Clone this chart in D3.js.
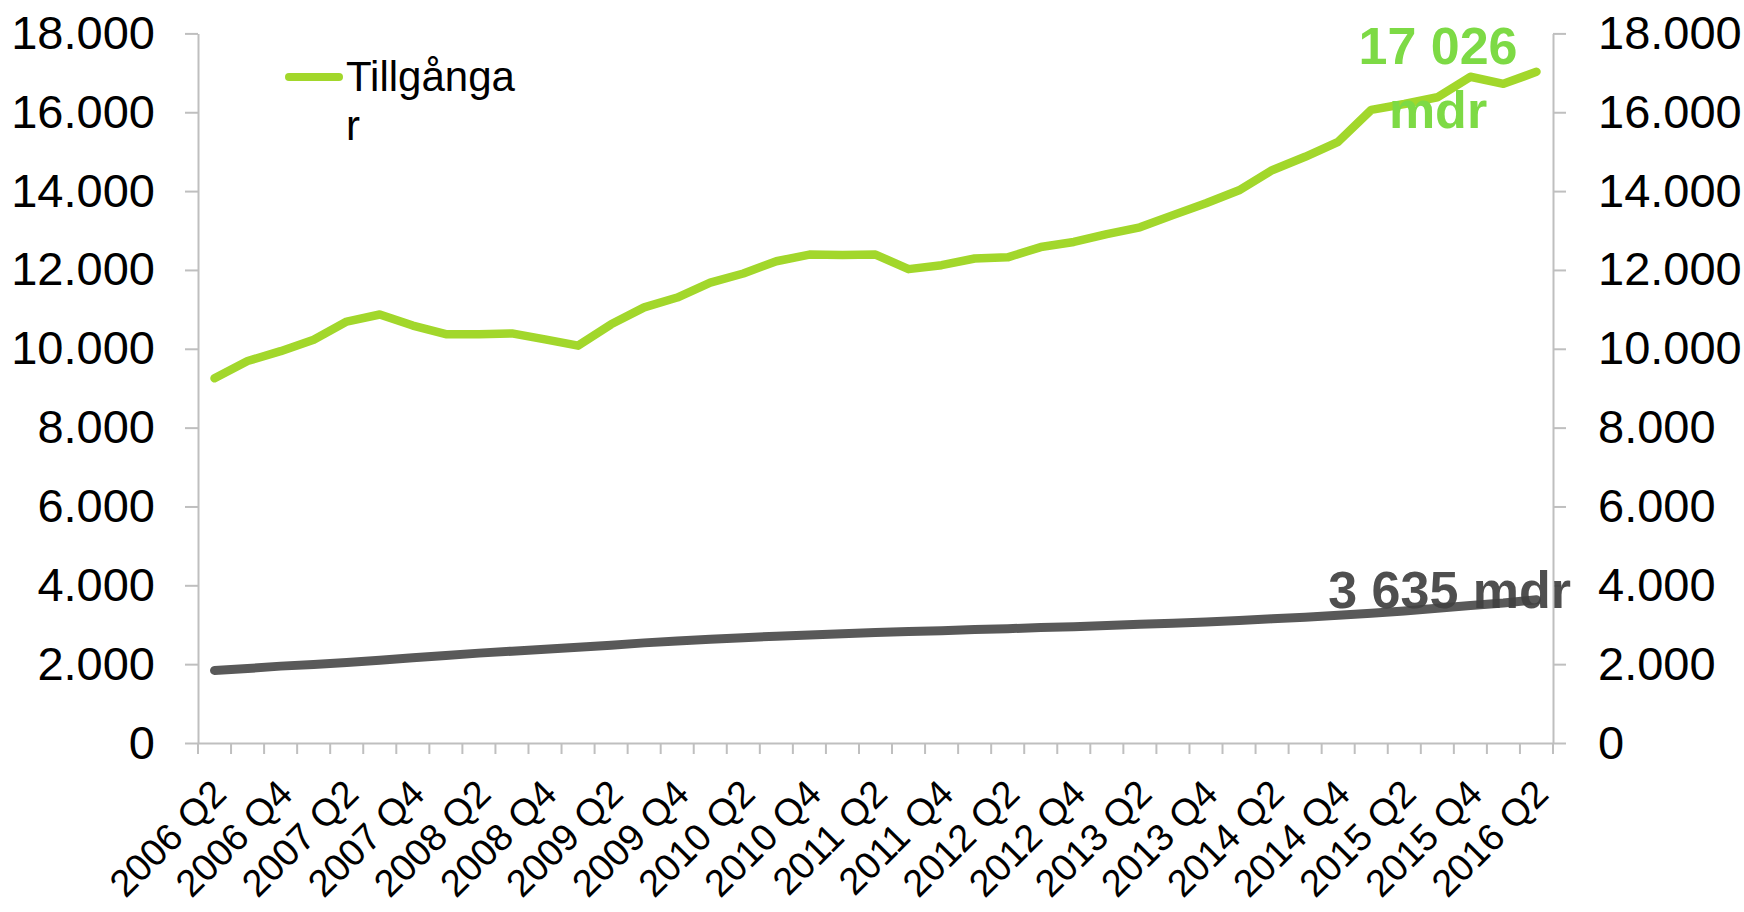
<!DOCTYPE html>
<html><head><meta charset="utf-8">
<script src="https://cdn.jsdelivr.net/npm/d3@7"></script>
<style>
body{margin:0;background:#fff}
text{font-family:"Liberation Sans",Arial,sans-serif}
</style>
</head><body>
<svg id="c" width="1744" height="912"></svg>
<script>
const categories = ["2006 Q2","2006 Q3","2006 Q4","2007 Q1","2007 Q2","2007 Q3","2007 Q4","2008 Q1","2008 Q2","2008 Q3","2008 Q4",
  "2009 Q1","2009 Q2","2009 Q3","2009 Q4","2010 Q1","2010 Q2","2010 Q3","2010 Q4","2011 Q1","2011 Q2","2011 Q3","2011 Q4",
  "2012 Q1","2012 Q2","2012 Q3","2012 Q4","2013 Q1","2013 Q2","2013 Q3","2013 Q4","2014 Q1","2014 Q2","2014 Q3","2014 Q4",
  "2015 Q1","2015 Q2","2015 Q3","2015 Q4","2016 Q1","2016 Q2"];
const assets = [9250,9690,9940,10230,10690,10870,10590,10370,10370,10390,10240,
  10080,10620,11050,11300,11680,11910,12220,12390,12380,12390,12020,12120,
  12290,12320,12580,12710,12910,13080,13390,13690,14020,14530,14870,15250,
  16060,16210,16380,16900,16720,17026];
const series2 = [1840,1890,1950,1990,2040,2100,2160,2220,2280,2330,2380,
  2430,2480,2540,2590,2630,2670,2710,2740,2770,2800,2830,2850,
  2880,2900,2930,2950,2980,3010,3040,3070,3110,3150,3190,3240,
  3290,3350,3420,3490,3550,3635];
const yTicks = [0,2000,4000,6000,8000,10000,12000,14000,16000,18000];
const xTickLabels = categories.filter((c,i)=>i%2===0);
const legendLines = ["Tillgånga","r"];
const assetsLabel = ["17 026","mdr"];
const series2Label = "3 635 mdr";

const svg = d3.select("#c");
const x = d3.scaleBand().domain(categories).range([198,1553]);
const y = d3.scaleLinear().domain([0,18000]).range([743,33.4]);
const fmt = d3.formatLocale({decimal:",",thousands:".",grouping:[3],currency:["",""]}).format(",");
const axisCol = "#BFBFBF";

// left axis
const gl = svg.append("g").attr("transform","translate(198,0)")
  .call(d3.axisLeft(y).tickValues(yTicks).tickSize(13).tickSizeOuter(0).tickPadding(30).tickFormat(fmt));
// right axis
const gr = svg.append("g").attr("transform","translate(1553,0)")
  .call(d3.axisRight(y).tickValues(yTicks).tickSize(13).tickSizeOuter(0).tickPadding(32).tickFormat(fmt));
[gl,gr].forEach(g=>{
  g.select(".domain").attr("stroke",axisCol).attr("stroke-width",2);
  g.selectAll(".tick line").attr("stroke",axisCol).attr("stroke-width",2);
  g.selectAll(".tick text").attr("font-size",47).attr("fill","#000")
   .attr("font-family","'Liberation Sans',Arial,sans-serif");
});

// bottom axis
const gb = svg.append("g").attr("transform",`translate(0,${y(0)})`)
  .call(d3.axisBottom(x).tickValues([]).tickSizeOuter(0));
gb.select(".domain").attr("stroke",axisCol).attr("stroke-width",2);
const bounds = categories.map(c=>x(c)).concat([x.range()[1]]);
gb.selectAll("line.bt").data(bounds).join("line").attr("class","bt")
  .attr("x1",d=>d).attr("x2",d=>d).attr("y1",0).attr("y2",11)
  .attr("stroke",axisCol).attr("stroke-width",2);
gb.selectAll("text.xl").data(xTickLabels).join("text").attr("class","xl")
  .attr("transform",d=>`translate(${x(d)+x.bandwidth()/2+14},${53}) rotate(-45)`)
  .attr("text-anchor","end").attr("font-size",38).attr("fill","#000").text(d=>d);

// lines
const line = d3.line().x((d,i)=>x(categories[i])+x.bandwidth()/2).y(d=>y(d));
svg.append("path").datum(series2).attr("d",line).attr("fill","none")
  .attr("stroke","#595959").attr("stroke-width",9).attr("stroke-linejoin","round").attr("stroke-linecap","round");
svg.append("path").datum(assets).attr("d",line).attr("fill","none")
  .attr("stroke","#A2D72B").attr("stroke-width",8.5).attr("stroke-linejoin","round").attr("stroke-linecap","round");

// legend
svg.append("line").attr("x1",289).attr("x2",339).attr("y1",77).attr("y2",77)
  .attr("stroke","#A2D72B").attr("stroke-width",8).attr("stroke-linecap","round");
svg.selectAll("text.leg").data(legendLines).join("text").attr("class","leg")
  .attr("x",346).attr("y",(d,i)=>91+i*48.5).attr("font-size",42).attr("fill","#000").text(d=>d);

// value labels
svg.selectAll("text.al").data(assetsLabel).join("text").attr("class","al")
  .attr("x",1438).attr("y",(d,i)=>64+i*64).attr("text-anchor","middle")
  .attr("font-size",52).attr("font-weight","bold").attr("fill","#7DDA45").text(d=>d);
svg.append("text").attr("x",1571).attr("y",608).attr("text-anchor","end")
  .attr("font-size",52).attr("font-weight","bold").attr("fill","#404040").attr("fill-opacity",0.92)
  .text(series2Label);
</script>
</body></html>
